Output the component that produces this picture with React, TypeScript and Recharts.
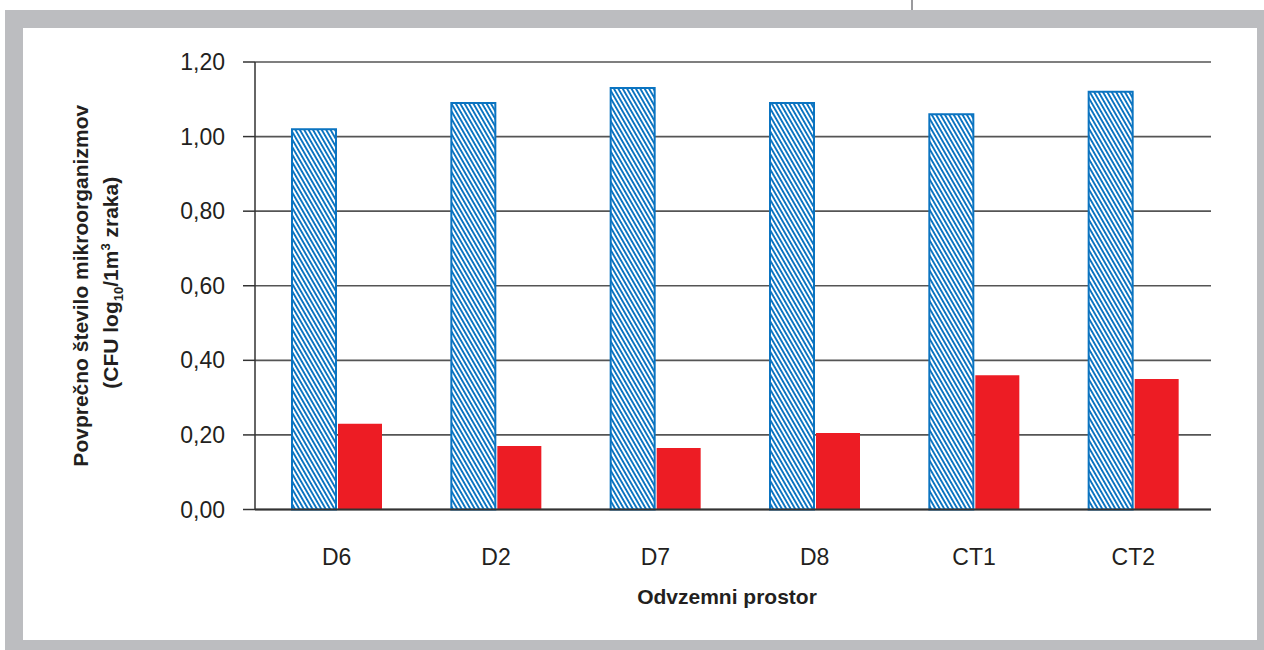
import { BarChart, Bar, XAxis, YAxis, CartesianGrid } from 'recharts';

// sampling rooms and mean log10 CFU per 1 m3 of air
const rooms = ['D6', 'D2', 'D7', 'D8', 'CT1', 'CT2'];
const hatchedValues = [1.02, 1.09, 1.13, 1.09, 1.06, 1.12];
const solidValues = [0.23, 0.17, 0.165, 0.205, 0.36, 0.35];
const yTicks = [0, 0.2, 0.4, 0.6, 0.8, 1.0, 1.2];

const data = rooms.map((room, i) => ({
  room,
  hatched: hatchedValues[i],
  solid: solidValues[i],
}));

const TEXT = '#231f20';
const FONT = '"Liberation Sans", Arial, sans-serif';
const BLUE = '#0b74c1';
const RED = '#ed1c24';

const fmt = (v: number) => v.toFixed(2).replace('.', ',');

function YTitle(props: any) {
  const vb = props.viewBox || {};
  const cy = vb.y + vb.height / 2;
  const common = { fontFamily: FONT, fontWeight: 700, fontSize: 21, fill: TEXT, textAnchor: 'middle' as const };
  return (
    <g>
      <text x={88} y={cy} transform={`rotate(-90 88 ${cy})`} {...common}>
        Povprečno število mikroorganizmov
      </text>
      <text x={118} y={cy - 3} transform={`rotate(-90 118 ${cy - 3})`} {...common}>
        (CFU log
        <tspan fontSize={13} dy={5}>10</tspan>
        <tspan dy={-5}>/1m</tspan>
        <tspan fontSize={13} dy={-8}>3</tspan>
        <tspan dy={8}> zraka)</tspan>
      </text>
    </g>
  );
}

function XTitle(props: any) {
  const vb = props.viewBox || {};
  return (
    <text
      x={vb.x + vb.width / 2 - 6}
      y={vb.y + 94}
      textAnchor="middle"
      fontFamily={FONT}
      fontWeight={700}
      fontSize={21}
      fill={TEXT}
    >
      Odvzemni prostor
    </text>
  );
}

export default function App() {
  return (
    <div style={{ position: 'absolute', left: 0, top: 0, width: 1264, height: 650, background: '#fff', overflow: 'hidden' }}>
      {/* grey frame around the figure */}
      <div style={{ position: 'absolute', left: 5, top: 10, width: 1259, height: 640, background: '#bcbdc0' }} />
      <div style={{ position: 'absolute', left: 23, top: 28, width: 1234, height: 612, background: '#fff' }} />
      <div style={{ position: 'absolute', left: 911, top: 0, width: 2, height: 10, background: '#9a9a9d' }} />

      <svg width={0} height={0} style={{ position: 'absolute' }}>
        <defs>
          <pattern id="hatch" patternUnits="userSpaceOnUse" width={3.8} height={10} patternTransform="rotate(-30)">
            <rect x={0} y={0} width={3.8} height={10} fill="#fff" />
            <rect x={0} y={0} width={1.9} height={10} fill={BLUE} />
          </pattern>
        </defs>
      </svg>

      <div style={{ position: 'absolute', left: 0, top: 0 }}>
        <BarChart
          width={1264}
          height={650}
          data={data}
          margin={{ top: 62, right: 53, left: 175, bottom: 80.5 }}
          barSize={44}
          barGap={2}
        >
          <CartesianGrid vertical={false} stroke="#555" strokeWidth={1.6} />
          <XAxis
            dataKey="room"
            height={60}
            padding={{ left: 2, right: -2 }}
            axisLine={{ stroke: '#333', strokeWidth: 2 }}
            tickLine={false}
            tickSize={0}
            tickMargin={39}
            tick={{ fill: TEXT, fontSize: 23, fontFamily: FONT }}
            label={<XTitle />}
          />
          <YAxis
            width={80}
            domain={[0, 1.2]}
            ticks={yTicks}
            interval={0}
            tickFormatter={fmt}
            axisLine={{ stroke: '#333', strokeWidth: 1.5 }}
            tickLine={{ stroke: '#333', strokeWidth: 1.5 }}
            tickSize={12}
            tickMargin={18}
            tick={{ fill: TEXT, fontSize: 23, fontFamily: FONT }}
            label={<YTitle />}
          />
          <YAxis
            yAxisId="frame"
            orientation="right"
            width={0}
            tick={false}
            tickLine={false}
            axisLine={{ stroke: '#222', strokeWidth: 2 }}
          />
          <Bar dataKey="hatched" fill="url(#hatch)" stroke={BLUE} strokeWidth={2} isAnimationActive={false} />
          <Bar dataKey="solid" fill={RED} isAnimationActive={false} />
        </BarChart>
      </div>
    </div>
  );
}
